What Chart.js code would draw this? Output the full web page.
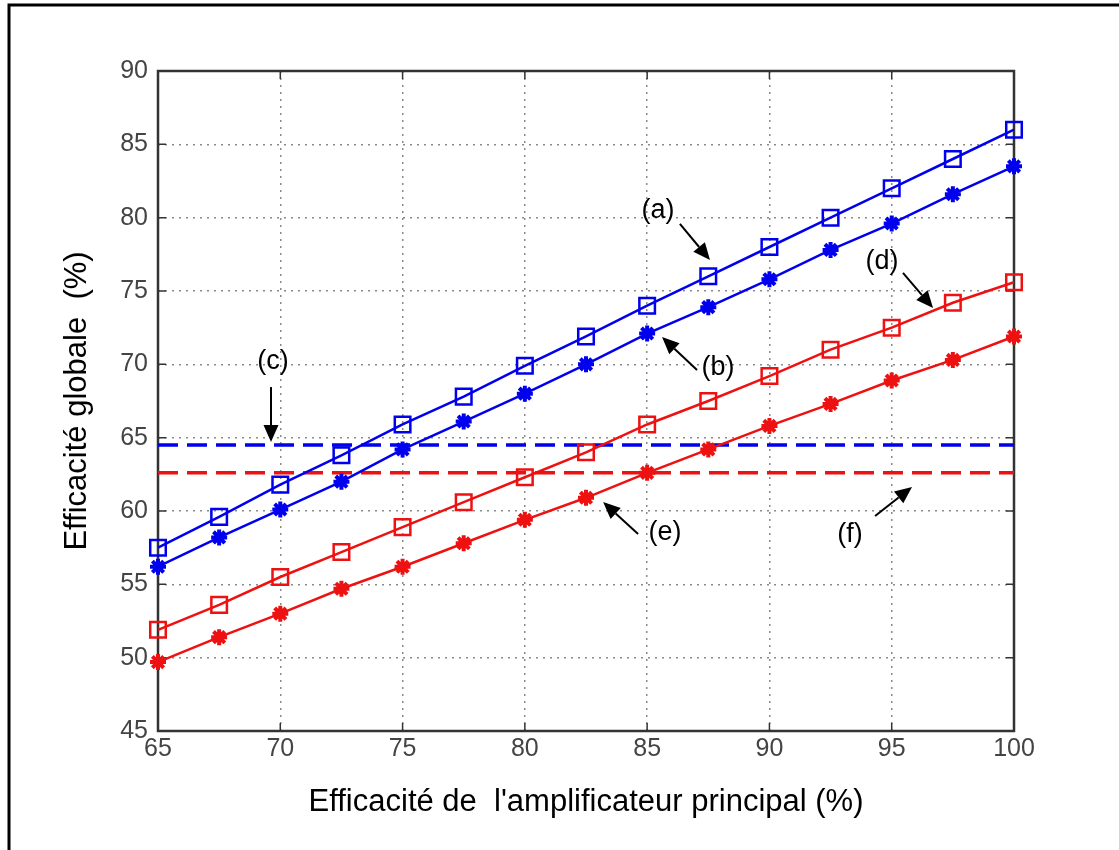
<!DOCTYPE html>
<html>
<head>
<meta charset="utf-8">
<script src="https://cdn.jsdelivr.net/npm/chart.js@4.4.1/dist/chart.umd.min.js"></script>
<style>
  html, body { margin: 0; padding: 0; background: #fff; }
  canvas { display: block; }
</style>
</head>
<body>
<canvas id="myChart" width="1119" height="850"></canvas>
<script>
// valeurs
const efficacitePrincipal = [65, 67.5, 70, 72.5, 75, 77.5, 80, 82.5, 85, 87.5, 90, 92.5, 95, 97.5, 100];
const serieA = [57.5, 59.6, 61.8, 63.8, 65.9, 67.8, 69.9, 71.9, 74.0, 76.0, 78.0, 80.0, 82.0, 84.0, 86.0];
const serieB = [56.2, 58.2, 60.1, 62.0, 64.2, 66.1, 68.0, 70.0, 72.1, 73.9, 75.8, 77.8, 79.6, 81.6, 83.5];
const serieD = [51.9, 53.6, 55.5, 57.2, 58.9, 60.6, 62.3, 64.0, 65.9, 67.5, 69.2, 71.0, 72.5, 74.2, 75.6];
const serieE = [49.7, 51.4, 53.0, 54.7, 56.2, 57.8, 59.4, 60.9, 62.6, 64.2, 65.8, 67.3, 68.9, 70.3, 71.9];
const niveauC = 64.5;
const niveauF = 62.6;

const bleu = '#0000ee';
const rouge = '#ee1111';

// etiquettes (a)...(f) avec leurs fleches, en unites des axes
const etiquettes = [
  { txt: '(a)', lx: 85.44, ly: 80.5, sx: 86.34, sy: 79.57, tx: 87.57, ty: 77.11 },
  { txt: '(b)', lx: 87.9, ly: 69.75, sx: 87.04, sy: 69.61, tx: 85.61, ty: 71.86 },
  { txt: '(c)', lx: 69.7, ly: 70.2, sx: 69.62, sy: 68.45, tx: 69.62, ty: 64.7 },
  { txt: '(d)', lx: 94.6, ly: 77.0, sx: 95.46, sy: 76.23, tx: 96.69, ty: 73.84 },
  { txt: '(e)', lx: 85.73, ly: 58.5, sx: 84.63, sy: 58.43, tx: 83.2, ty: 60.61 },
  { txt: '(f)', lx: 93.29, ly: 58.4, sx: 94.32, sy: 59.66, tx: 95.83, ty: 61.64 }
];

const points = (vals) => efficacitePrincipal.map((x, i) => ({ x: x, y: vals[i] }));
const horizontale = (v) => [
  { x: efficacitePrincipal[0], y: v },
  { x: efficacitePrincipal[efficacitePrincipal.length - 1], y: v }
];

const cadre = {
  id: 'cadre',
  beforeDraw(chart) {
    const c = chart.ctx;
    c.save();
    c.fillStyle = '#fff';
    c.fillRect(0, 0, chart.width, chart.height);
    c.strokeStyle = '#000';
    c.lineWidth = 3;
    c.beginPath();
    c.moveTo(9, chart.height);
    c.lineTo(9, 5);
    c.lineTo(chart.width, 5);
    c.stroke();
    c.restore();
  },
  beforeDatasetsDraw(chart) {
    const c = chart.ctx;
    const a = chart.chartArea;
    const xs = chart.scales.x, ys = chart.scales.y;
    c.save();
    // petites graduations vers l'interieur
    c.strokeStyle = '#333';
    c.lineWidth = 1.5;
    c.beginPath();
    xs.ticks.forEach(t => {
      const p = xs.getPixelForValue(t.value);
      c.moveTo(p, a.bottom); c.lineTo(p, a.bottom - 8);
      c.moveTo(p, a.top); c.lineTo(p, a.top + 8);
    });
    ys.ticks.forEach(t => {
      const p = ys.getPixelForValue(t.value);
      c.moveTo(a.left, p); c.lineTo(a.left + 8, p);
      c.moveTo(a.right, p); c.lineTo(a.right - 8, p);
    });
    c.stroke();
    // boite des axes
    c.strokeStyle = '#333';
    c.lineWidth = 2.5;
    c.strokeRect(a.left, a.top, a.right - a.left, a.bottom - a.top);
    c.restore();
  },
  afterDraw(chart) {
    const c = chart.ctx;
    const xs = chart.scales.x, ys = chart.scales.y;
    c.save();
    c.fillStyle = '#000';
    c.strokeStyle = '#000';
    c.font = '27px "Liberation Sans", Arial, sans-serif';
    c.textAlign = 'center';
    c.textBaseline = 'middle';
    etiquettes.forEach(e => {
      c.fillText(e.txt, xs.getPixelForValue(e.lx), ys.getPixelForValue(e.ly));
      const x0 = xs.getPixelForValue(e.sx), y0 = ys.getPixelForValue(e.sy);
      const x1 = xs.getPixelForValue(e.tx), y1 = ys.getPixelForValue(e.ty);
      const ang = Math.atan2(y1 - y0, x1 - x0);
      const L = 17, W = 7.5;
      const bx = x1 - L * Math.cos(ang), by = y1 - L * Math.sin(ang);
      c.lineWidth = 2;
      c.beginPath();
      c.moveTo(x0, y0); c.lineTo(bx, by);
      c.stroke();
      c.beginPath();
      c.moveTo(x1, y1);
      c.lineTo(bx + W * Math.sin(ang), by - W * Math.cos(ang));
      c.lineTo(bx - W * Math.sin(ang), by + W * Math.cos(ang));
      c.closePath();
      c.fill();
    });
    c.restore();
  }
};

const ctx = document.getElementById('myChart');

new Chart(ctx, {
  type: 'line',
  data: {
    datasets: [{
      label: '(a)',
      data: points(serieA),
      borderColor: bleu,
      backgroundColor: 'rgba(0,0,0,0)',
      borderWidth: 2.5,
      pointStyle: 'rect',
      pointRadius: 11,
      pointBorderWidth: 2.5,
      clip: false
    }, {
      label: '(b)',
      data: points(serieB),
      borderColor: bleu,
      backgroundColor: bleu,
      borderWidth: 2.5,
      pointStyle: 'star',
      pointRadius: 8,
      pointBorderWidth: 4,
      clip: false
    }, {
      label: '(d)',
      data: points(serieD),
      borderColor: rouge,
      backgroundColor: 'rgba(0,0,0,0)',
      borderWidth: 2.5,
      pointStyle: 'rect',
      pointRadius: 11,
      pointBorderWidth: 2.5,
      clip: false
    }, {
      label: '(e)',
      data: points(serieE),
      borderColor: rouge,
      backgroundColor: rouge,
      borderWidth: 2.5,
      pointStyle: 'star',
      pointRadius: 8,
      pointBorderWidth: 4,
      clip: false
    }, {
      label: '(c)',
      data: horizontale(niveauC),
      borderColor: bleu,
      borderWidth: 3.5,
      borderDash: [20, 9],
      pointRadius: 0
    }, {
      label: '(f)',
      data: horizontale(niveauF),
      borderColor: rouge,
      borderWidth: 3.5,
      borderDash: [20, 9],
      pointRadius: 0
    }]
  },
  options: {
    responsive: false,
    animation: false,
    layout: { padding: { left: 0, top: 71, right: 105, bottom: 0 } },
    plugins: { legend: { display: false }, tooltip: { enabled: false } },
    scales: {
      x: {
        type: 'linear',
        min: 65,
        max: 100,
        afterFit: (s) => { s.height = 119; },
        ticks: { stepSize: 5, padding: 3, color: '#444', font: { size: 25, family: 'Liberation Sans' } },
        grid: { color: '#8a8a8a', lineWidth: 1.5, drawTicks: false },
        border: { display: false, dash: [2, 5] },
        title: {
          display: true,
          text: "Efficacité de  l'amplificateur principal (%)",
          color: '#000',
          font: { size: 31, family: 'Liberation Sans' },
          padding: { top: 0, bottom: 29 }
        }
      },
      y: {
        min: 45,
        max: 90,
        afterFit: (s) => { s.width = 158; },
        ticks: { stepSize: 5, padding: 10, color: '#444', font: { size: 25, family: 'Liberation Sans' } },
        grid: { color: '#8a8a8a', lineWidth: 1.5, drawTicks: false },
        border: { display: false, dash: [2, 5] },
        title: {
          display: true,
          text: 'Efficacité globale  (%)',
          color: '#000',
          font: { size: 31, family: 'Liberation Sans' },
          padding: { top: 59, bottom: 0 }
        }
      }
    }
  },
  plugins: [cadre]
});
</script>
</body>
</html>
